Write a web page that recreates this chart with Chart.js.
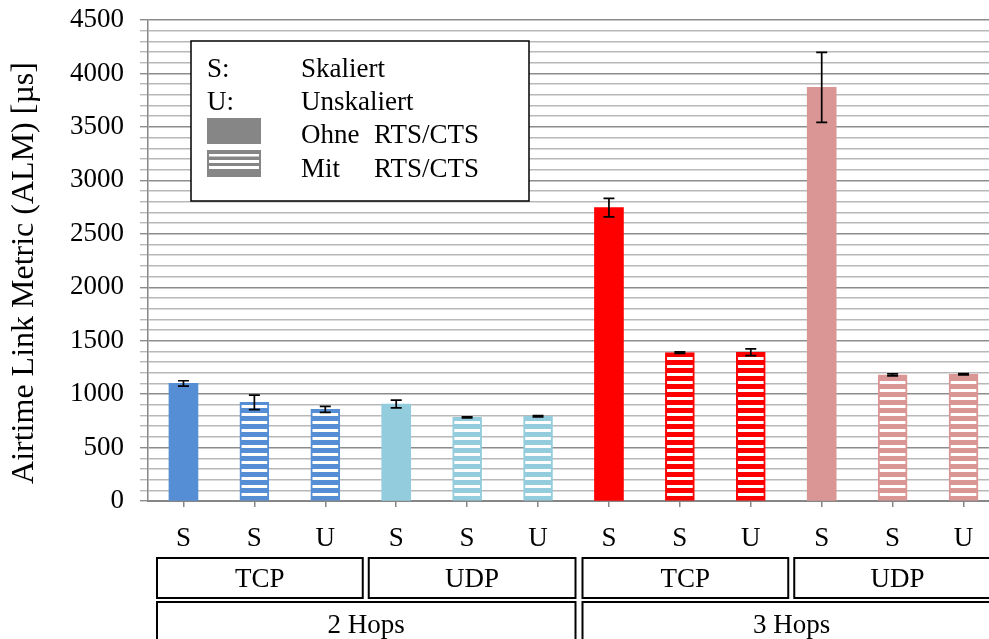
<!DOCTYPE html>
<html>
<head>
<meta charset="utf-8">
<script src="https://cdn.jsdelivr.net/npm/chart.js@4/dist/chart.umd.min.js"></script>
<style>
  html, body { margin: 0; padding: 0; background: #ffffff; }
  #wrap { width: 989px; height: 639px; overflow: hidden; position: relative; }
  canvas { display: block; }
</style>
</head>
<body>
<div id="wrap"><canvas id="c" width="999" height="639"></canvas></div>
<script>
// ---- data ----
const categories = ['S', 'S', 'U', 'S', 'S', 'U', 'S', 'S', 'U', 'S', 'S', 'U'];
const values     = [1100, 923, 858, 907, 783, 793, 2745, 1388, 1392, 3870, 1180, 1185];
const errors     = [25, 68, 28, 36, 5, 6, 87, 8, 32, 327, 10, 6];
const withRtsCts = [false, true, true, false, true, true, false, true, true, false, true, true];
const protocols  = ['TCP', 'UDP', 'TCP', 'UDP'];
const hops       = ['2 Hops', '3 Hops'];
const yTickStep  = 100;
const yLabelStep = 500;
const yTitle     = 'Airtime Link Metric (ALM) [µs]';
const legendRows = [['S:', 'Skaliert'], ['U:', 'Unskaliert'], ['', 'Ohne', 'RTS/CTS'], ['', 'Mit', 'RTS/CTS']];

// ---- styling ----
const FONT = "'Liberation Serif', 'Times New Roman', serif";
const groupColors = ['#558ed5', '#93cddd', '#ff0000', '#d99694'];

function stripePattern(color) {
  const pc = document.createElement('canvas');
  pc.width = 8; pc.height = 8;
  const g = pc.getContext('2d');
  g.fillStyle = '#ffffff'; g.fillRect(0, 0, 8, 8);
  g.fillStyle = color; g.fillRect(0, 0, 8, 5);
  return document.getElementById('c').getContext('2d').createPattern(pc, 'repeat');
}
const bgColors = categories.map((_, i) => {
  const col = groupColors[Math.floor(i / 3)];
  return withRtsCts[i] ? stripePattern(col) : col;
});
const borderColors = categories.map((_, i) => groupColors[Math.floor(i / 3)]);
const borderWidths = categories.map((_, i) => withRtsCts[i] ? 2 : 0);

const errorBarPlugin = {
  id: 'errorBars',
  afterDatasetsDraw(chart) {
    const ctx = chart.ctx, y = chart.scales.y;
    const meta = chart.getDatasetMeta(0);
    ctx.save();
    ctx.strokeStyle = '#000000';
    ctx.lineWidth = 1.7;
    meta.data.forEach((bar, i) => {
      const x = bar.x;
      const yt = y.getPixelForValue(values[i] + errors[i]);
      const yb = y.getPixelForValue(values[i] - errors[i]);
      ctx.beginPath();
      ctx.moveTo(x, yt); ctx.lineTo(x, yb);
      ctx.moveTo(x - 5.5, yt); ctx.lineTo(x + 5.5, yt);
      ctx.moveTo(x - 5.5, yb); ctx.lineTo(x + 5.5, yb);
      ctx.stroke();
    });
    ctx.restore();
  }
};

const groupBoxPlugin = {
  id: 'groupBoxes',
  afterDraw(chart) {
    const ctx = chart.ctx, x = chart.scales.x;
    const cw = x.getPixelForValue(1) - x.getPixelForValue(0);
    const edge = (i) => x.getPixelForValue(i) - cw / 2;
    ctx.save();
    ctx.strokeStyle = '#000000';
    ctx.lineWidth = 2;
    ctx.fillStyle = '#000000';
    ctx.font = '27px ' + FONT;
    ctx.textAlign = 'center';
    ctx.textBaseline = 'middle';
    protocols.forEach((p, k) => {
      const l = edge(k * 3) + (k % 2 === 0 ? 9 : 8);
      const r = edge(k * 3 + 3) + 2;
      ctx.strokeRect(l, 558, r - l, 40);
      ctx.fillText(p, (l + r) / 2, 580);
    });
    hops.forEach((h, k) => {
      const l = edge(k * 6) + 9;
      const r = edge(k * 6 + 6) + 2;
      ctx.strokeRect(l, 602, r - l, 60);
      ctx.fillText(h, (l + r) / 2, 626);
    });
    // y-axis title
    ctx.save();
    ctx.translate(25, 273);
    ctx.rotate(-Math.PI / 2);
    ctx.font = '32px ' + FONT;
    ctx.fillText(yTitle, 0, 0);
    ctx.restore();
    ctx.restore();
  }
};

const legendPlugin = {
  id: 'boxLegend',
  afterDraw(chart) {
    const ctx = chart.ctx;
    ctx.save();
    ctx.fillStyle = '#ffffff';
    ctx.fillRect(191, 41, 338, 160);
    ctx.strokeStyle = '#000000';
    ctx.lineWidth = 1.5;
    ctx.strokeRect(191, 41, 338, 160);
    // swatches
    ctx.fillStyle = '#868686';
    ctx.fillRect(207, 118, 54, 26);
    ctx.fillRect(207, 150, 54, 27);
    ctx.fillStyle = '#ffffff';
    ctx.fillRect(209, 154, 50, 2.5);
    ctx.fillRect(209, 160, 50, 3);
    ctx.fillRect(209, 166, 50, 3);
    ctx.fillStyle = '#000000';
    ctx.font = '27px ' + FONT;
    ctx.textBaseline = 'alphabetic';
    ctx.textAlign = 'left';
    const baselines = [77, 110, 143, 177];
    legendRows.forEach((row, r) => {
      if (row[0]) ctx.fillText(row[0], 207, baselines[r]);
      ctx.fillText(row[1], 301, baselines[r]);
      if (row[2]) ctx.fillText(row[2], 374, baselines[r]);
    });
    ctx.restore();
  }
};

new Chart(document.getElementById('c'), {
  type: 'bar',
  data: {
    labels: categories,
    datasets: [{
      data: values,
      backgroundColor: bgColors,
      borderColor: borderColors,
      borderWidth: borderWidths,
      borderSkipped: false,
      barThickness: 29
    }]
  },
  options: {
    responsive: false,
    devicePixelRatio: 1,
    animation: false,
    layout: { padding: { top: 20, left: 0, right: 0, bottom: 0 } },
    plugins: { legend: { display: false }, tooltip: { enabled: false }, title: { display: false } },
    scales: {
      x: {
        afterFit(s) { s.height = 138; s.paddingLeft = 0; s.paddingRight = 0; },
        grid: { display: true, drawOnChartArea: false, drawTicks: true, tickLength: 6, color: '#868686', offset: false, lineWidth: 1.5 },
        border: { display: true, color: '#868686', width: 2 },
        ticks: { color: '#000000', font: { family: FONT, size: 27 }, padding: 16, maxRotation: 0, autoSkip: false }
      },
      y: {
        min: 0,
        max: 4500,
        afterFit(s) { s.width = 148; s.paddingTop = 0; s.paddingBottom = 0; },
        grid: {
          color: (c) => (c.tick && c.tick.value % yLabelStep === 0) ? '#8c8c8c' : '#b8b8b8',
          lineWidth: 1.4,
          tickLength: 8
        },
        border: { display: true, color: '#868686', width: 1.5 },
        ticks: {
          stepSize: yTickStep,
          maxTicksLimit: 100,
          autoSkip: false,
          padding: 16,
          color: '#000000',
          font: { family: FONT, size: 27 },
          callback: (v) => (v % yLabelStep === 0 ? String(v) : '')
        },
        title: { display: false }
      }
    }
  },
  plugins: [errorBarPlugin, groupBoxPlugin, legendPlugin]
});
</script>
</body>
</html>
